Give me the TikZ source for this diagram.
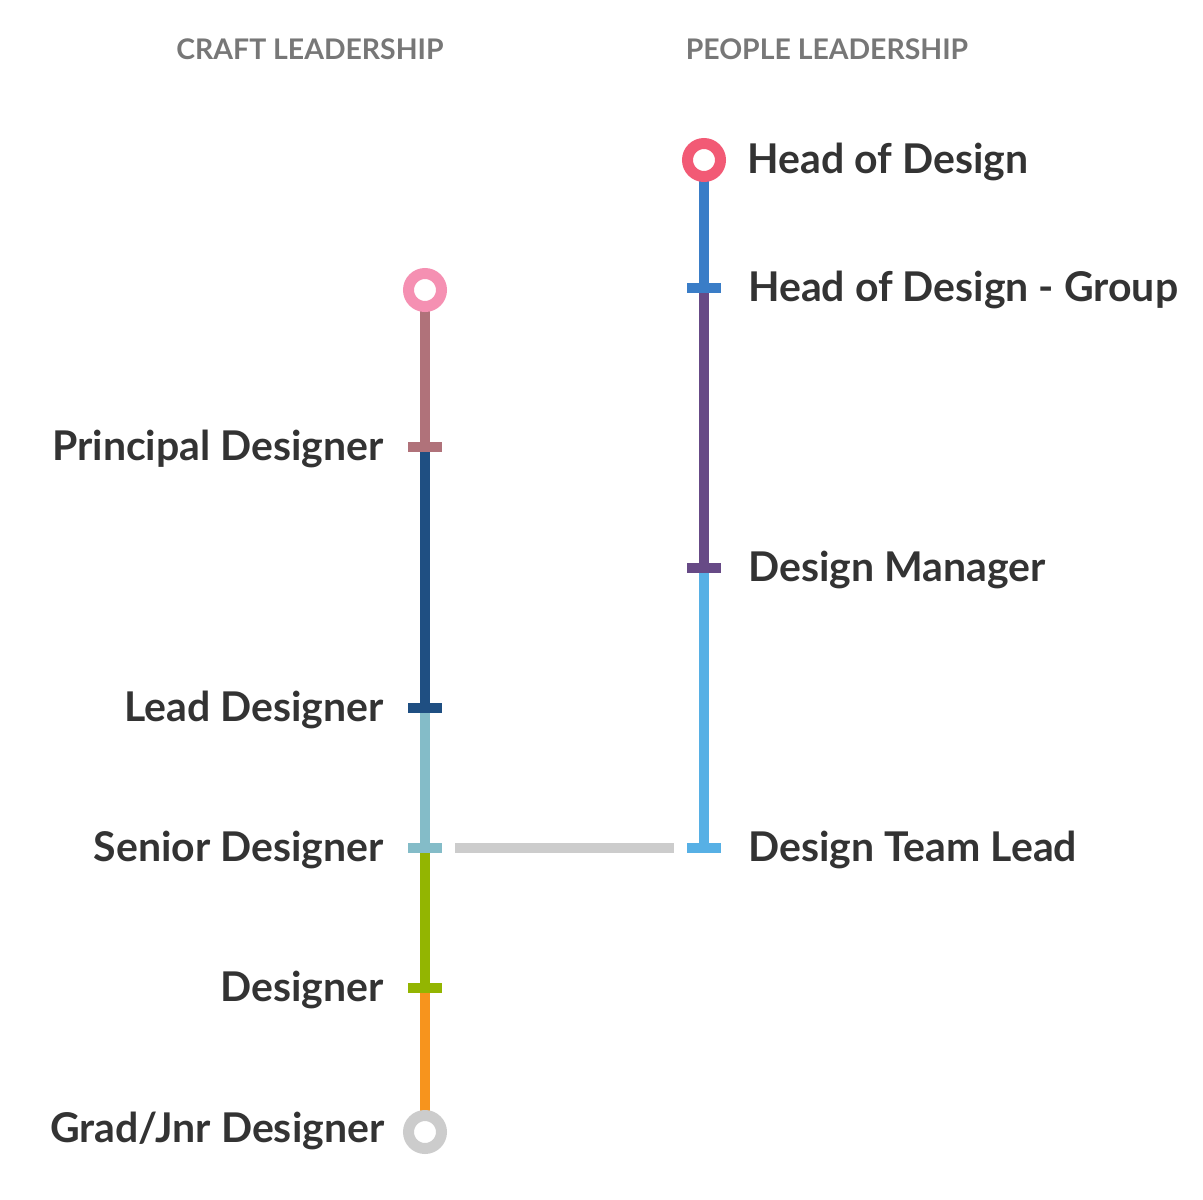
\documentclass[tikz,border=0pt]{standalone}
\usepackage{fontspec}
\setmainfont{Lato}
\usepackage{xcolor}
\definecolor{textgray}{RGB}{51,51,51}
\definecolor{headgray}{RGB}{119,119,119}
\definecolor{craftpink}{RGB}{245,144,178}
\definecolor{mauve}{RGB}{176,114,122}
\definecolor{navy}{RGB}{31,79,130}
\definecolor{teal}{RGB}{132,188,200}
\definecolor{leafgreen}{RGB}{147,181,1}
\definecolor{orange}{RGB}{247,148,29}
\definecolor{railgray}{RGB}{204,204,204}
\definecolor{coral}{RGB}{242,90,117}
\definecolor{midblue}{RGB}{58,125,199}
\definecolor{purple}{RGB}{103,74,134}
\definecolor{skyblue}{RGB}{87,176,229}
\usetikzlibrary{positioning}
\newcommand{\craftx}{425}
\newcommand{\peoplex}{704}
\tikzset{
    rail/.style={line width=10pt, line cap=butt},
    bridge/.style={rail, railgray, shorten <=13pt, shorten >=13pt},
    tick/.style={draw=none, rectangle, minimum width=34pt, minimum height=10pt, inner sep=0pt, outer sep=0pt},
    terminus/.style={circle, fill=white, line width=11pt, minimum size=33pt, inner sep=0pt, outer sep=0pt},
    role/.style={text=textgray, font=\fontsize{41}{44}\selectfont\bfseries, inner sep=0pt, text height=29pt, text depth=0pt},
    craftrole/.style={role, anchor=east},
    peoplerole/.style={role, anchor=west},
    track/.style={text=headgray, font=\fontsize{28.4}{30}\selectfont\bfseries, inner sep=0pt}
}
\begin{document}
\begin{tikzpicture}[x=1pt, y=-1pt]
    \useasboundingbox (0,0) rectangle (1203,1200);

    % column titles
    \node[track] (craft-title) at (310,49) {CRAFT LEADERSHIP};
    \node[track] (people-title) at (827,49) {PEOPLE LEADERSHIP};

    % stations
    \coordinate (c-top) at (\craftx,290);
    \coordinate (c-principal) at (\craftx,447);
    \coordinate (c-lead) at (\craftx,708);
    \coordinate (c-senior) at (\craftx,848);
    \coordinate (c-designer) at (\craftx,988);
    \coordinate (c-grad) at (\craftx,1132);
    \coordinate (p-head) at (\peoplex,160);
    \coordinate (p-group) at (\peoplex,288);
    \coordinate (p-manager) at (\peoplex,568);
    \coordinate (p-teamlead) at (\peoplex,848);

    % rails
    \draw[rail, mauve] (c-top) -- (c-principal);
    \draw[rail, navy] (c-principal) -- (c-lead);
    \draw[rail, teal] (c-lead) -- (c-senior);
    \draw[rail, leafgreen] (c-senior) -- (c-designer);
    \draw[rail, orange] (c-designer) -- (c-grad);
    \draw[rail, midblue] (p-head) -- (p-group);
    \draw[rail, purple] (p-group) -- (p-manager);
    \draw[rail, skyblue] (p-manager) -- ([yshift=-5pt]p-teamlead);

    % ticks
    \node[tick, fill=mauve] (t-principal) at (c-principal) {};
    \node[tick, fill=navy] (t-lead) at (c-lead) {};
    \node[tick, fill=teal] (t-senior) at (c-senior) {};
    \node[tick, fill=leafgreen] (t-designer) at (c-designer) {};
    \node[tick, fill=midblue] (t-group) at (p-group) {};
    \node[tick, fill=purple] (t-manager) at (p-manager) {};
    \node[tick, fill=skyblue] (t-teamlead) at (p-teamlead) {};

    % end points
    \node[terminus, draw=craftpink] (r-top) at (c-top) {};
    \node[terminus, draw=railgray] (r-grad) at (c-grad) {};
    \node[terminus, draw=coral] (r-head) at (p-head) {};

    % crossing between the tracks
    \draw[bridge] (t-senior) -- (t-teamlead);

    % labels
    \node[craftrole, left=24pt of t-principal, yshift=1.5pt] (l-principal) {Principal Designer};
    \node[craftrole, left=24pt of t-lead, yshift=1.5pt] (l-lead) {Lead Designer};
    \node[craftrole, left=24pt of t-senior, yshift=1.5pt] (l-senior) {Senior Designer};
    \node[craftrole, left=24pt of t-designer, yshift=1.5pt] (l-designer) {Designer};
    \node[craftrole, left=24pt of r-grad, yshift=4pt] (l-grad) {Grad/Jnr Designer};

    \node[peoplerole, right=27pt of r-head, yshift=1.5pt] (l-head) {Head of Design};
    \node[peoplerole, right=27pt of t-group, yshift=1.5pt] (l-group) {Head of Design - Group};
    \node[peoplerole, right=27pt of t-manager, yshift=1.5pt] (l-manager) {Design Manager};
    \node[peoplerole, right=27pt of t-teamlead, yshift=1.5pt] (l-teamlead) {Design Team Lead};
\end{tikzpicture}
\end{document}
